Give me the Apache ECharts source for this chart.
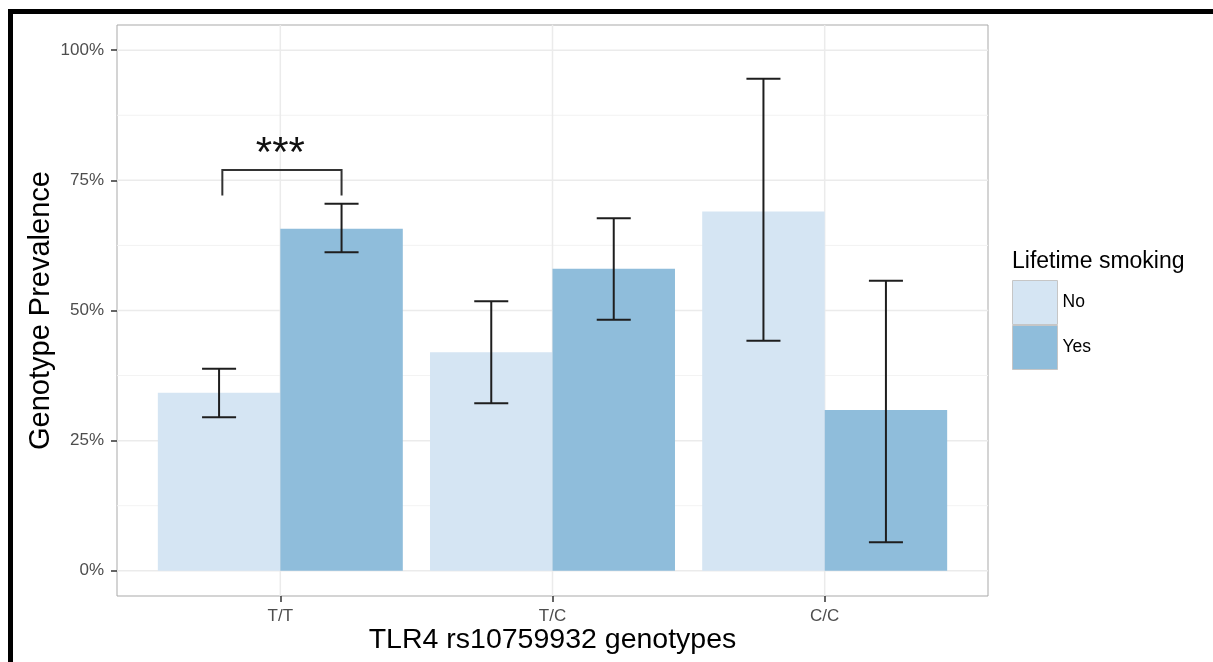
<!DOCTYPE html>
<html><head><meta charset="utf-8">
<script src="https://cdn.jsdelivr.net/npm/echarts@6/dist/echarts.min.js"></script>
<style>html,body{margin:0;padding:0;background:#fff}#c{width:1213px;height:662px}</style>
</head><body><div id="c"></div>
<script>
// ---- data ----
const categories = ['T/T', 'T/C', 'C/C'];
const groupNames = ['No', 'Yes'];
const noValues = [34.2, 42.0, 69.0];
const yesValues = [65.7, 58.0, 30.9];
const noLow = [29.5, 32.2, 44.2];
const noHigh = [38.8, 51.8, 94.5];
const yesLow = [61.2, 48.2, 5.5];
const yesHigh = [70.5, 67.7, 55.7];
const yTicks = [0, 25, 50, 75, 100];
const yMinorTicks = [12.5, 37.5, 62.5, 87.5];
const bracketX = [0.787, 1.225];
const bracketY = [72.1, 77.0];
const sigLabel = '***';
const sigY = 79.9;
const xTitle = 'TLR4 rs10759932 genotypes';
const yTitle = 'Genotype Prevalence';
const legendTitle = 'Lifetime smoking';

// ---- layout / style constants ----
const X_MIN = 0.4, X_MAX = 3.6, Y_MIN = -4.85, Y_MAX = 104.85;
const BAR_W = 0.45, DODGE = 0.225, WHISK = 0.0625;
const COLORS = { No: '#d5e5f3', Yes: '#8fbddb' };
const FONT = 'Liberation Sans, Arial, sans-serif';

const catIdx = categories.map((c, i) => i + 1);

function barRender(offset) {
  return function (params, api) {
    const x = api.value(0) + offset;
    const v = api.value(1);
    const p0 = api.coord([x - BAR_W / 2, v]);
    const p1 = api.coord([x + BAR_W / 2, 0]);
    return { type: 'rect', shape: { x: p0[0], y: p0[1], width: p1[0] - p0[0], height: p1[1] - p0[1] },
      style: { fill: api.visual('color') } };
  };
}
function errRender(offset) {
  return function (params, api) {
    const x = api.value(0) + offset;
    const lo = api.value(1), hi = api.value(2);
    const a = api.coord([x, lo]), b = api.coord([x, hi]);
    const wl = api.coord([x - WHISK, lo]), wr = api.coord([x + WHISK, lo]);
    const hl = api.coord([x - WHISK, hi]), hr = api.coord([x + WHISK, hi]);
    const st = { stroke: '#1e1e1e', lineWidth: 2, fill: null };
    return { type: 'group', children: [
      { type: 'line', shape: { x1: a[0], y1: a[1], x2: b[0], y2: b[1] }, style: st },
      { type: 'line', shape: { x1: wl[0], y1: wl[1], x2: wr[0], y2: wr[1] }, style: st },
      { type: 'line', shape: { x1: hl[0], y1: hl[1], x2: hr[0], y2: hr[1] }, style: st }
    ] };
  };
}

const gridData = [
  ...yTicks.map(v => [0, v]),
  ...yMinorTicks.map(v => [1, v]),
  ...catIdx.map(v => [2, v])
];

const option = {
  animation: false,
  textStyle: { fontFamily: FONT },
  graphic: [
    { type: 'rect', shape: { x: 8, y: 9, width: 5, height: 653 }, style: { fill: '#000' } },
    { type: 'rect', shape: { x: 8, y: 9, width: 1205, height: 5 }, style: { fill: '#000' } }
  ],
  title: { text: legendTitle, left: 1012, top: 250, padding: 0,
    textStyle: { fontSize: 23, fontWeight: 'normal', color: '#000', fontFamily: FONT } },
  legend: { data: groupNames, orient: 'vertical', left: 1012, top: 280, padding: 0,
    itemWidth: 45, itemHeight: 44, itemGap: 0, icon: 'rect',
    itemStyle: { borderColor: '#c6c6c6', borderWidth: 1 },
    textStyle: { fontSize: 17.5, color: '#000', fontFamily: FONT }, selectedMode: false },
  grid: { left: 117, top: 25, width: 871, height: 571, show: true, borderColor: '#a9a9a9', borderWidth: 1,
    backgroundColor: '#fff', containLabel: false, outerBoundsMode: 'none' },
  xAxis: { type: 'value', min: X_MIN, max: X_MAX, position: 'bottom',
    name: xTitle, nameLocation: 'middle', nameGap: 30, nameMoveOverlap: false,
    nameTextStyle: { fontSize: 28.5, color: '#000', fontFamily: FONT },
    axisLine: { show: false, onZero: false }, splitLine: { show: false },
    axisTick: { show: true, length: 6, customValues: catIdx, lineStyle: { color: '#333', width: 1.5 } },
    axisLabel: { customValues: catIdx, margin: 12, fontSize: 17, color: '#4d4d4d', fontFamily: FONT,
      formatter: v => categories[Math.round(v) - 1] || '' } },
  yAxis: { type: 'value', min: Y_MIN, max: Y_MAX, position: 'left',
    name: yTitle, nameLocation: 'middle', nameGap: 62, nameRotate: 90, nameMoveOverlap: false,
    nameTextStyle: { fontSize: 29, color: '#000', fontFamily: FONT },
    axisLine: { show: false, onZero: false }, splitLine: { show: false },
    axisTick: { show: true, length: 6, customValues: yTicks, lineStyle: { color: '#333', width: 1.5 } },
    axisLabel: { customValues: yTicks, margin: 13, fontSize: 17, color: '#4d4d4d', fontFamily: FONT,
      formatter: v => v + '%' } },
  series: [
    { name: 'grid', type: 'custom', silent: true, z: 1, encode: { x: 0, y: 1 }, data: gridData,
      renderItem: function (params, api) {
        const kind = api.value(0), v = api.value(1);
        let p0, p1;
        if (kind === 2) { p0 = api.coord([v, Y_MIN]); p1 = api.coord([v, Y_MAX]); }
        else { p0 = api.coord([X_MIN, v]); p1 = api.coord([X_MAX, v]); }
        return { type: 'line', shape: { x1: p0[0], y1: p0[1], x2: p1[0], y2: p1[1] },
          style: { stroke: kind === 1 ? '#f3f3f3' : '#ebebeb', lineWidth: kind === 1 ? 1 : 1.5 } };
      } },
    { name: 'No', type: 'custom', z: 2, itemStyle: { color: COLORS.No }, encode: { x: 0, y: 1 },
      data: catIdx.map((x, i) => [x, noValues[i]]), renderItem: barRender(-DODGE) },
    { name: 'Yes', type: 'custom', z: 2, itemStyle: { color: COLORS.Yes }, encode: { x: 0, y: 1 },
      data: catIdx.map((x, i) => [x, yesValues[i]]), renderItem: barRender(DODGE) },
    { name: 'No CI', type: 'custom', z: 3, silent: true, encode: { x: 0, y: [1, 2] },
      data: catIdx.map((x, i) => [x, noLow[i], noHigh[i]]), renderItem: errRender(-DODGE) },
    { name: 'Yes CI', type: 'custom', z: 3, silent: true, encode: { x: 0, y: [1, 2] },
      data: catIdx.map((x, i) => [x, yesLow[i], yesHigh[i]]), renderItem: errRender(DODGE) },
    { name: 'sig', type: 'custom', z: 3, silent: true, encode: { x: 0, y: 1 },
      data: [[bracketX[0], bracketY[0], bracketX[1], bracketY[1]]],
      renderItem: function (params, api) {
        const x0 = api.value(0), y0 = api.value(1), x1 = api.value(2), y1 = api.value(3);
        const a = api.coord([x0, y0]), b = api.coord([x0, y1]), c = api.coord([x1, y1]), d = api.coord([x1, y0]);
        const t = api.coord([1, sigY]);
        return { type: 'group', children: [
          { type: 'polyline', shape: { points: [a, b, c, d] }, style: { stroke: '#333', lineWidth: 2, fill: null } },
          { type: 'text', x: t[0], y: t[1],
            style: { text: sigLabel, fontSize: 42, fontFamily: FONT, fill: '#111', align: 'center', verticalAlign: 'middle' } }
        ] };
      } }
  ]
};
echarts.init(document.getElementById('c'), null, { renderer: 'canvas' }).setOption(option);
</script>
</body></html>
